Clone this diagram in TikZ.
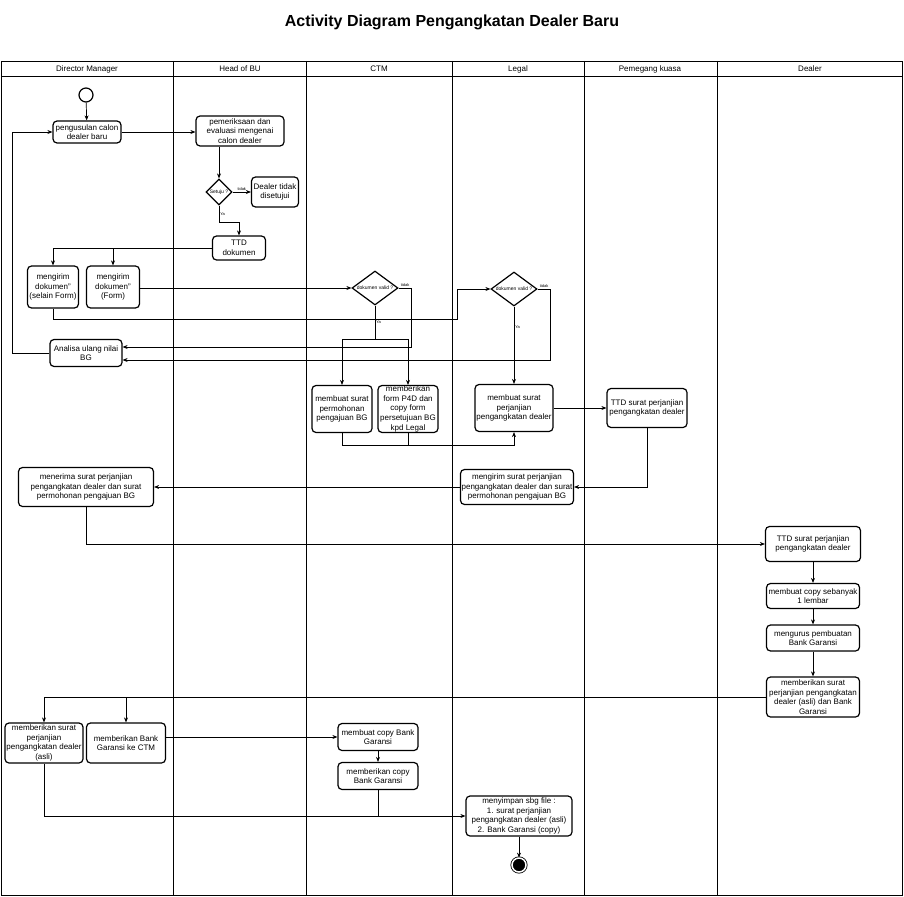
\documentclass[tikz,border=0pt]{standalone}
\usepackage{fontspec}
\setmainfont{Liberation Sans}
\usetikzlibrary{shapes.geometric,arrows.meta}

\begin{document}
\begin{tikzpicture}[->,>={Stealth[length=5pt,width=4pt]},x=1pt,y=-1pt,line width=0.7pt,
  act node/.style={rectangle,rounded corners=4pt,draw,fill=white,line width=1.2pt,align=center,inner sep=1pt,font=\fontsize{8}{9.6}\selectfont},
  dec node/.style={diamond,draw,fill=white,line width=1.2pt,inner sep=0pt,font=\fontsize{5}{6}\selectfont},
  guard/.style={font=\fontsize{4}{5}\selectfont,inner sep=1pt},
  lane/.style={-,line width=0.8pt}]
\useasboundingbox (0,0) rectangle (904,896);
%title
  \node[font=\bfseries\fontsize{16}{19}\selectfont] (title) at (452,22) {Activity Diagram Pengangkatan Dealer Baru};
%lanes
  \draw[lane] (1,61) rectangle (902,895);
  \draw[lane] (1,76) -- (902,76);
  \foreach \x in {173,306,452,584,717} \draw[lane] (\x,61) -- (\x,895);
  \foreach \x/\t in {87/Director Manager,240/Head of BU,379/CTM,518/Legal,650/Pemegang kuasa,810/Dealer}
    \node[font=\fontsize{8}{10}\selectfont,anchor=base,inner sep=0pt] (h\x) at (\x,71.5) {\t};
%start
  \node[circle,draw,line width=1.2pt,minimum size=14,inner sep=0] (s) at (86,95) {};
%Director Manager
  \node[act node,minimum width=68,minimum height=22] (a1) at (87,132) {pengusulan calon\\dealer baru};
  \node[act node,minimum width=51,minimum height=42] (a2) at (53,287) {mengirim\\dokumen"\\(selain Form)};
  \node[act node,minimum width=53,minimum height=42] (a3) at (113,287) {mengirim\\dokumen"\\(Form)};
  \node[act node,minimum width=72,minimum height=27] (a4) at (86,353) {Analisa ulang nilai\\BG};
  \node[act node,minimum width=135,minimum height=39] (a5) at (86,487) {menerima surat perjanjian\\pengangkatan dealer dan surat\\permohonan pengajuan BG};
  \node[act node,minimum width=78,minimum height=40] (a6) at (44,743) {memberikan surat\\perjanjian\\pengangkatan dealer\\(asli)};
  \node[act node,minimum width=79,minimum height=40] (a7) at (126,743) {memberikan Bank\\Garansi ke CTM};
%Head of BU
  \node[act node,minimum width=88,minimum height=30] (b1) at (240,131) {pemeriksaan dan\\evaluasi mengenai\\calon dealer};
  \node[dec node,minimum width=26,minimum height=26] (d1) at (219,192) {\makebox[0pt]{Setuju ?}};
  \node[act node,minimum width=47,minimum height=30] (b2) at (275,192) {Dealer tidak\\disetujui};
  \node[act node,minimum width=53,minimum height=24] (b3) at (239,248) {TTD\\dokumen};
%CTM
  \node[dec node,minimum width=46,minimum height=34] (c1) at (375,288) {\makebox[0pt]{dokumen valid ?}};
  \node[act node,minimum width=60,minimum height=47] (c2) at (342,409) {membuat surat\\permohonan\\pengajuan BG};
  \node[act node,minimum width=60,minimum height=47] (c3) at (408,409)
    {\smash{\raisebox{-2pt}{\begin{tabular}{@{}c@{}}memberikan\\form P4D dan\\copy form\\persetujuan BG\\kpd Legal\end{tabular}}}};
  \node[act node,minimum width=80,minimum height=27] (c4) at (378,737) {membuat copy Bank\\Garansi};
  \node[act node,minimum width=80,minimum height=27] (c5) at (378,776) {memberikan copy\\Bank Garansi};
%Legal
  \node[dec node,minimum width=46,minimum height=34] (l1) at (514,289) {\makebox[0pt]{dokumen valid ?}};
  \node[act node,minimum width=78,minimum height=47] (l2) at (514,408) {membuat surat\\perjanjian\\pengangkatan dealer};
  \node[act node,minimum width=113,minimum height=35] (l3) at (517,487) {mengirim surat perjanjian\\pengangkatan dealer dan surat\\permohonan pengajuan BG};
  \node[act node,minimum width=106,minimum height=40] (l4) at (519,816) {menyimpan sbg file :\\1. surat perjanjian\\pengangkatan dealer (asli)\\2. Bank Garansi (copy)};
%Pemegang kuasa
  \node[act node,minimum width=80,minimum height=39] (p1) at (647,408) {TTD surat perjanjian\\pengangkatan dealer};
%Dealer
  \node[act node,minimum width=95,minimum height=35] (e1) at (813,544) {TTD surat perjanjian\\pengangkatan dealer};
  \node[act node,minimum width=93,minimum height=25] (e2) at (813,596) {membuat copy sebanyak\\1 lembar};
  \node[act node,minimum width=93,minimum height=26] (e3) at (813,638) {mengurus pembuatan\\Bank Garansi};
  \node[act node,minimum width=93,minimum height=40] (e4) at (813,697) {memberikan surat\\perjanjian pengangkatan\\dealer (asli) dan Bank\\Garansi};
%end
  \node[circle,draw,fill=black,double=white,double distance=1.5pt,line width=0.8pt,minimum size=14,inner sep=0] (f) at (519,865) {};
%bends
  \coordinate (k1) at (457,319);
  \coordinate (k2) at (375,339);
  \coordinate (k3) at (408,445);
%paths
  \draw (s) -- (a1);
  \draw (a1.east) -- (a1.east -| b1.west);
  \draw (b1.south -| d1.north) -- (d1.north);
  \draw (d1.east) -- node[guard,above] {tidak} (b2.west);
  \draw (d1.south) -- node[guard,right] {Ya} ++(0,17) -| (b3.north);
  \draw (b3.west) -| (a2.north);
  \draw (b3.west -| a3.north) -- (a3.north);
  \draw (a3.east |- c1.west) -- (c1.west);
  \draw (a2.south) |- (k1) |- (l1.west);
  \draw (c1.east) -- node[guard,above] {tidak} ++(13,0) |- ([yshift=6pt]a4.east);
  \draw (l1.east) -- node[guard,above] {tidak} ++(13,0) |- ([yshift=-7pt]a4.east);
  \draw (a4.west) -- ++(-37,0) |- (a1.west);
  \draw[-] (c1.south) -- node[guard,right] {Ya} (k2);
  \draw (k2) -| (c2.north);
  \draw (k2) -| (c3.north);
  \draw[-] (c2.south) |- (k3);
  \draw (c3.south) -- (k3) -| (l2.south);
  \draw (l1.south) -- node[guard,right,pos=0.27] {Ya} (l2.north);
  \draw (l2.east) -- (p1.west);
  \draw (p1.south) |- (l3.east);
  \draw (l3.west) -- (a5.east);
  \draw (a5.south) |- (e1.west);
  \draw (e1) -- (e2);
  \draw (e2) -- (e3);
  \draw (e3) -- (e4);
  \draw (e4.west) -| (a6.north);
  \draw (e4.west -| a7.north) -- (a7.north);
  \draw (a7.east |- c4.west) -- (c4.west);
  \draw (c4) -- (c5);
  \draw (a6.south) |- (l4.west);
  \draw[-] (c5.south) -- (c5.south |- l4.west);
  \draw (l4) -- (f);
\end{tikzpicture}
\end{document}
